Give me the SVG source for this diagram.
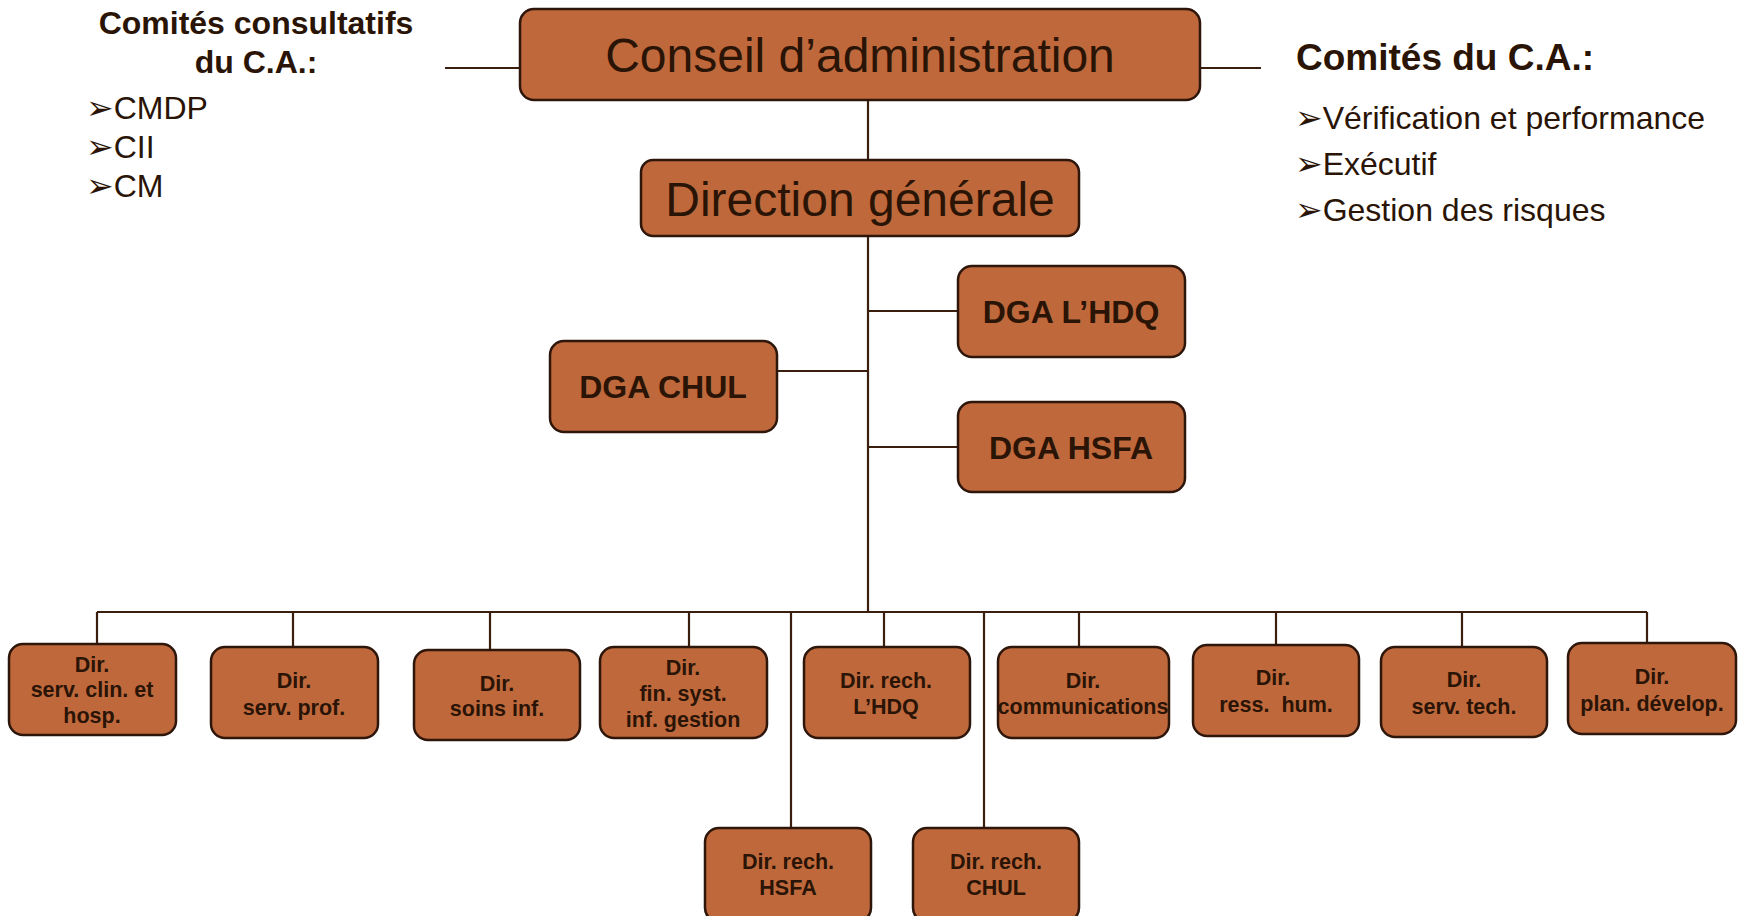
<svg xmlns="http://www.w3.org/2000/svg" width="1743" height="916" viewBox="0 0 1743 916">
<style>
.box{fill:#BF683C;stroke:#2E160A;stroke-width:2.5}
.ln{stroke:#3A1E0E;stroke-width:2.2;fill:none}
text{font-family:"Liberation Sans",Arial,sans-serif;fill:#2A1406}
.big{font-size:48px;text-anchor:middle}
.dga{font-size:32px;font-weight:bold;text-anchor:middle}
.dir{font-size:21.5px;font-weight:bold;text-anchor:middle}
.ttl{font-weight:bold}
.li{font-size:32px}
.ar{font-family:"DejaVu Sans",sans-serif;font-size:33px}
</style>
<rect width="1743" height="916" fill="#fff"/>
<g id="connectors" class="ln">
<path d="M445 68H520M1200 68H1261"/>
<path d="M868 100V160M868 236V612"/>
<path d="M868 311H958M777 371H868M868 447H958"/>
<path d="M97 612H1647"/>
<path d="M97 612V644M293 612V647M490 612V650M689 612V647M884 612V647M1079 612V647M1276 612V645M1462 612V647M1647 612V643"/>
<path d="M791 612V828M984 612V828"/>
</g>
<g id="comites-consultatifs">
<text class="ttl" x="256" y="34" font-size="32" text-anchor="middle">Comités consultatifs</text>
<text class="ttl" x="256" y="73" font-size="32" text-anchor="middle">du C.A.:</text>
<text class="li" x="86" y="119"><tspan class="ar">➢</tspan>CMDP</text>
<text class="li" x="86" y="158"><tspan class="ar">➢</tspan>CII</text>
<text class="li" x="86" y="197"><tspan class="ar">➢</tspan>CM</text>
</g>
<g id="comites-ca">
<text class="ttl" x="1296" y="70" font-size="37">Comités du C.A.:</text>
<text class="li" x="1295" y="129"><tspan class="ar">➢</tspan>Vérification et performance</text>
<text class="li" x="1295" y="175"><tspan class="ar">➢</tspan>Exécutif</text>
<text class="li" x="1295" y="221"><tspan class="ar">➢</tspan>Gestion des risques</text>
</g>
<g id="conseil">
<rect class="box" x="520" y="9" width="680" height="91" rx="14"/>
<text class="big" x="860" y="72">Conseil d’administration</text>
</g>
<g id="direction">
<rect class="box" x="641" y="160" width="438" height="76" rx="12"/>
<text class="big" x="860" y="216">Direction générale</text>
</g>
<g id="dga-hdq">
<rect class="box" x="958" y="266" width="227" height="91" rx="14"/>
<text class="dga" x="1071" y="323">DGA L’HDQ</text>
</g>
<g id="dga-chul">
<rect class="box" x="550" y="341" width="227" height="91" rx="14"/>
<text class="dga" x="663" y="398">DGA CHUL</text>
</g>
<g id="dga-hsfa">
<rect class="box" x="958" y="402" width="227" height="90" rx="14"/>
<text class="dga" x="1071" y="459">DGA HSFA</text>
</g>
<g id="dir-clin">
<rect class="box" x="9" y="644" width="167" height="91" rx="14"/>
<text class="dir" x="92" y="672">Dir.</text>
<text class="dir" x="92" y="697">serv. clin. et</text>
<text class="dir" x="92" y="723">hosp.</text>
</g>
<g id="dir-prof">
<rect class="box" x="211" y="647" width="167" height="91" rx="14"/>
<text class="dir" x="294" y="688">Dir.</text>
<text class="dir" x="294" y="715">serv. prof.</text>
</g>
<g id="dir-soins">
<rect class="box" x="414" y="650" width="166" height="90" rx="14"/>
<text class="dir" x="497" y="691">Dir.</text>
<text class="dir" x="497" y="716">soins inf.</text>
</g>
<g id="dir-fin">
<rect class="box" x="600" y="647" width="167" height="91" rx="14"/>
<text class="dir" x="683" y="675">Dir.</text>
<text class="dir" x="683" y="701">fin. syst.</text>
<text class="dir" x="683" y="727">inf. gestion</text>
</g>
<g id="dir-rech-hdq">
<rect class="box" x="804" y="647" width="166" height="91" rx="14"/>
<text class="dir" x="886" y="688">Dir. rech.</text>
<text class="dir" x="886" y="714">L’HDQ</text>
</g>
<g id="dir-comm">
<rect class="box" x="998" y="647" width="171" height="91" rx="14"/>
<text class="dir" x="1083" y="688">Dir.</text>
<text class="dir" x="1083" y="714">communications</text>
</g>
<g id="dir-rh">
<rect class="box" x="1193" y="645" width="166" height="91" rx="14"/>
<text class="dir" x="1273" y="685">Dir.</text>
<text class="dir" x="1276" y="712">ress.&#160; hum.</text>
</g>
<g id="dir-tech">
<rect class="box" x="1381" y="647" width="166" height="90" rx="14"/>
<text class="dir" x="1464" y="687">Dir.</text>
<text class="dir" x="1464" y="714">serv. tech.</text>
</g>
<g id="dir-plan">
<rect class="box" x="1568" y="643" width="168" height="91" rx="14"/>
<text class="dir" x="1652" y="684">Dir.</text>
<text class="dir" x="1652" y="711">plan. dévelop.</text>
</g>
<g id="dir-rech-hsfa">
<rect class="box" x="705" y="828" width="166" height="94" rx="14"/>
<text class="dir" x="788" y="869">Dir. rech.</text>
<text class="dir" x="788" y="895">HSFA</text>
</g>
<g id="dir-rech-chul">
<rect class="box" x="913" y="828" width="166" height="94" rx="14"/>
<text class="dir" x="996" y="869">Dir. rech.</text>
<text class="dir" x="996" y="895">CHUL</text>
</g>
</svg>
